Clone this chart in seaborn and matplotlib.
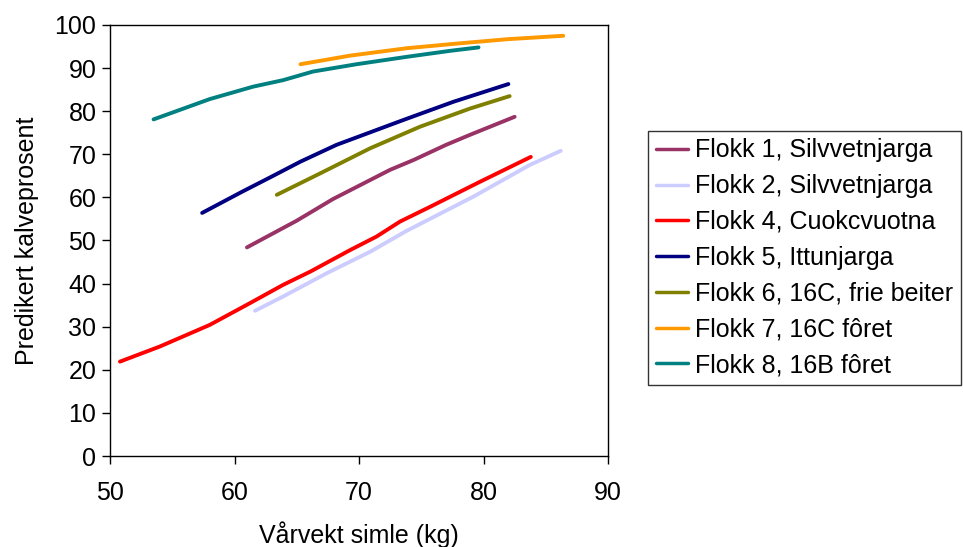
import numpy as np
import pandas as pd
import matplotlib
matplotlib.use("Agg")
import matplotlib.pyplot as plt
import seaborn as sns

labels = ["Flokk 1, Silvvetnjarga", "Flokk 2, Silvvetnjarga", "Flokk 4, Cuokcvuotna",
          "Flokk 5, Ittunjarga", "Flokk 6, 16C, frie beiter", "Flokk 7, 16C fôret",
          "Flokk 8, 16B fôret"]
colors = ["#993366", "#CCCCFF", "#FF0000", "#000080", "#808000", "#FF9900", "#008080"]

f1_x = [61.0, 65.0, 67.9, 72.5, 74.4, 77.0, 78.9, 82.5]
f1_y = [48.4, 54.6, 59.6, 66.4, 68.7, 72.2, 74.5, 78.7]
f2_x = [61.65, 63.9, 67.4, 70.9, 73.8, 79.2, 83.7, 86.2]
f2_y = [33.7, 37.0, 42.4, 47.4, 52.2, 60.2, 67.5, 70.8]
f4_x = [50.8, 54.0, 58.0, 61.2, 63.9, 66.1, 69.3, 71.4, 73.3, 75.7, 79.7, 83.8]
f4_y = [21.9, 25.4, 30.4, 35.4, 39.7, 42.8, 47.8, 50.9, 54.4, 57.8, 63.6, 69.4]
f5_x = [57.4, 60.6, 62.9, 65.3, 68.2, 73.6, 77.6, 82.0]
f5_y = [56.4, 61.3, 64.7, 68.3, 72.2, 78.0, 82.2, 86.3]
f6_x = [63.4, 66.9, 70.9, 74.9, 78.9, 82.1]
f6_y = [60.6, 65.6, 71.4, 76.4, 80.6, 83.5]
f7_x = [65.3, 69.3, 73.8, 77.9, 81.9, 86.4]
f7_y = [90.9, 92.9, 94.6, 95.7, 96.7, 97.5]
f8_x = [53.5, 58.0, 61.5, 63.9, 66.3, 69.8, 73.8, 77.3, 79.6]
f8_y = [78.1, 82.8, 85.7, 87.2, 89.2, 90.9, 92.6, 94.0, 94.8]

xs = [f1_x, f2_x, f4_x, f5_x, f6_x, f7_x, f8_x]
ys = [f1_y, f2_y, f4_y, f5_y, f6_y, f7_y, f8_y]

rows = []
for lab, x, y in zip(labels, xs, ys):
    for a, b in zip(x, y):
        rows.append({"x": a, "y": b, "Flokk": lab})
df = pd.DataFrame(rows)

sns.set_style("white")
plt.rcParams["font.family"] = ["Liberation Sans", "DejaVu Sans"]
plt.rcParams["text.color"] = "black"
plt.rcParams["axes.labelcolor"] = "black"
plt.rcParams["xtick.color"] = "black"
plt.rcParams["ytick.color"] = "black"

fig = plt.figure(figsize=(9.63, 5.47), dpi=100)
ax = fig.add_axes([110/963, 1 - 456/547, 498/963, 431/547])
sns.lineplot(data=df, x="x", y="y", hue="Flokk", hue_order=labels,
             palette=dict(zip(labels, colors)), linewidth=2.8, ax=ax,
             sort=False, estimator=None)

ax.set_xlim(50, 90)
ax.set_ylim(0, 100)
ax.set_xticks(np.arange(50, 91, 10))
ax.set_yticks(np.arange(0, 101, 10))
ax.tick_params(axis="both", direction="out", length=5.8, width=1, colors="black",
               labelsize=18, left=True, bottom=True)
ax.tick_params(axis="x", pad=12)
ax.tick_params(axis="y", pad=4)
for s in ax.spines.values():
    s.set_color("black")
    s.set_linewidth(1)
ax.set_xlabel("Vårvekt simle (kg)", fontsize=18, labelpad=12)
ax.set_ylabel("Predikert kalveprosent", fontsize=18, labelpad=11)

leg = ax.legend(loc="upper left", bbox_to_anchor=(648/963, 1 - 131/547),
                bbox_transform=fig.transFigure, borderaxespad=0, fontsize=18,
                frameon=True, fancybox=False, edgecolor="black",
                handlelength=1.3, handletextpad=0.28, labelspacing=0.47,
                borderpad=0.3)
leg.get_frame().set_linewidth(1)
for line in leg.get_lines():
    line.set_linewidth(2.5)

fig.savefig("out.png", dpi=100)
